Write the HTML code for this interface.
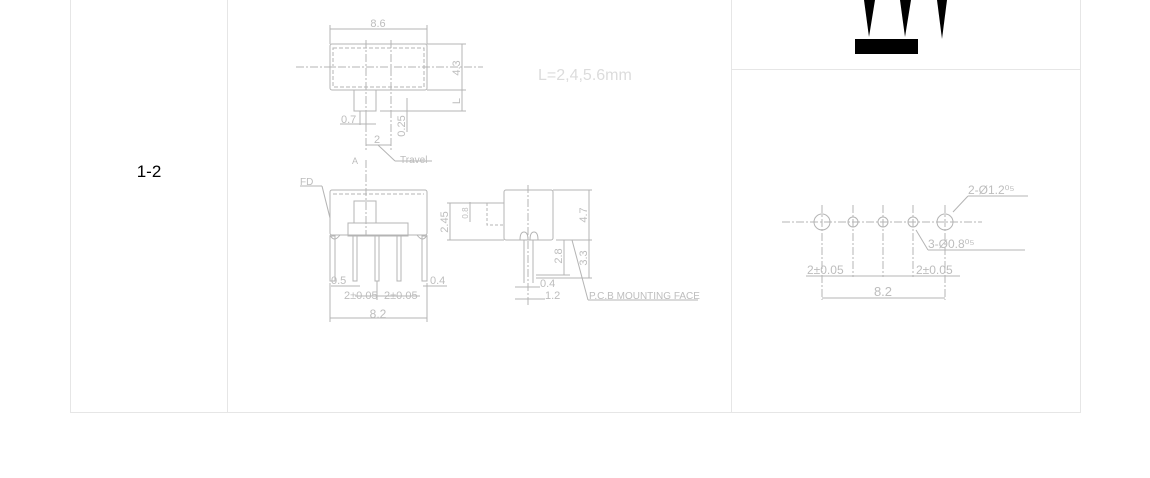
<!DOCTYPE html>
<html><head><style>
body{margin:0;background:#fff;}
svg{display:block;font-family:"Liberation Sans",sans-serif;}
</style></head><body>
<svg width="1150" height="478" viewBox="0 0 1150 478">
<g stroke="#e6e6e6" stroke-width="1" fill="none">
<line x1="70.5" y1="0" x2="70.5" y2="412.5"/>
<line x1="1080.5" y1="0" x2="1080.5" y2="412.5"/>
<line x1="70" y1="412.5" x2="1081" y2="412.5"/>
<line x1="227.5" y1="0" x2="227.5" y2="412"/>
<line x1="731.5" y1="0" x2="731.5" y2="412"/>
<line x1="731" y1="69.5" x2="1080" y2="69.5"/>
</g>
<text x="149" y="177" font-size="17" text-anchor="middle" fill="#000">1-2</text>
<g fill="#000">
<polygon points="864,0 875,0 869,37"/>
<polygon points="900,0 911,0 905,37"/>
<polygon points="937,0 947,0 942,39"/>
<rect x="855" y="39" width="63" height="15"/>
</g>
<g stroke="#b4b4b4" stroke-width="1" fill="none">
<rect x="330" y="44" width="97" height="46" rx="2"/>
<rect x="333" y="48" width="91" height="39" stroke-dasharray="4,2"/>
<line x1="296" y1="67" x2="483" y2="67" stroke-dasharray="8,2,2,2"/>
<line x1="366" y1="40" x2="366" y2="150" stroke-dasharray="8,2,2,2"/>
<line x1="391" y1="40" x2="391" y2="150" stroke-dasharray="8,2,2,2"/>
<line x1="330" y1="29" x2="427" y2="29"/>
<line x1="330" y1="25" x2="330" y2="44"/><line x1="427" y1="25" x2="427" y2="44"/>
<line x1="427" y1="44" x2="466" y2="44"/><line x1="427" y1="90" x2="466" y2="90"/>
<line x1="380" y1="111" x2="466" y2="111"/>
<line x1="462" y1="44" x2="462" y2="111"/>
<rect x="354" y="90" width="22" height="21"/>
<line x1="360" y1="111" x2="360" y2="125"/><line x1="366" y1="111" x2="366" y2="125"/>
<line x1="340" y1="124" x2="376" y2="124"/>
<line x1="407" y1="98" x2="407" y2="132"/>
<line x1="366" y1="145" x2="391" y2="145"/>
<line x1="378" y1="145" x2="395" y2="161"/><line x1="395" y1="161" x2="432" y2="161"/>
<line x1="366" y1="160" x2="366" y2="235" stroke-dasharray="8,2,2,2"/>
<rect x="330" y="190" width="97" height="45" rx="2"/>
<line x1="333" y1="194" x2="424" y2="194" stroke-dasharray="4,2"/>
<rect x="354" y="201" width="22" height="22"/>
<rect x="348" y="223" width="60" height="13"/>
<path d="M330 235 q4 8 10 0 M417 235 q6 8 10 0"/>
<rect x="330" y="236" width="5" height="45"/><rect x="422" y="236" width="5" height="45"/>
<rect x="353" y="236" width="4" height="45"/><rect x="375" y="236" width="4" height="45"/><rect x="397" y="236" width="4" height="45"/>
<line x1="300" y1="186" x2="322" y2="186"/><line x1="322" y1="186" x2="330" y2="218"/>
<line x1="330" y1="283" x2="330" y2="322"/><line x1="427" y1="283" x2="427" y2="322"/>
<line x1="330" y1="318" x2="427" y2="318"/>
<line x1="331" y1="286" x2="360" y2="286"/>
<line x1="355" y1="296" x2="420" y2="296"/>
<line x1="377" y1="281" x2="377" y2="300"/>
<line x1="423" y1="286" x2="447" y2="286"/>
<line x1="528" y1="185" x2="528" y2="305" stroke-dasharray="8,2,2,2"/>
<rect x="504" y="190" width="49" height="50" rx="2"/>
<rect x="487" y="203" width="17" height="22" stroke-dasharray="3,2"/>
<path d="M520 240 q0 -8 4 -8 q4 0 4 8 M530 240 q0 -8 4 -8 q4 0 4 8"/>
<line x1="524" y1="240" x2="524" y2="283"/><line x1="533" y1="240" x2="533" y2="283"/>
<line x1="553" y1="190" x2="592" y2="190"/><line x1="556" y1="240" x2="592" y2="240"/>
<line x1="589" y1="190" x2="589" y2="278"/>
<line x1="564" y1="240" x2="564" y2="275"/>
<line x1="536" y1="275" x2="570" y2="275"/><line x1="536" y1="278" x2="592" y2="278"/>
<line x1="447" y1="203" x2="504" y2="203"/><line x1="447" y1="240" x2="504" y2="240"/>
<line x1="450" y1="203" x2="450" y2="240"/>
<line x1="470" y1="202" x2="470" y2="222"/>
<line x1="515" y1="287" x2="540" y2="287"/><line x1="515" y1="299" x2="545" y2="299"/>
<line x1="572" y1="240" x2="588" y2="300"/><line x1="588" y1="300" x2="698" y2="300"/>
<line x1="782" y1="222" x2="982" y2="222" stroke-dasharray="8,2,2,2"/>
<circle cx="822" cy="222" r="8"/><circle cx="853" cy="222" r="5"/><circle cx="883" cy="222" r="5"/><circle cx="913" cy="222" r="5"/><circle cx="945" cy="222" r="8"/>
<g stroke-dasharray="8,2,2,2"><line x1="822" y1="205" x2="822" y2="300"/><line x1="853" y1="205" x2="853" y2="277"/><line x1="883" y1="205" x2="883" y2="277"/><line x1="913" y1="205" x2="913" y2="277"/><line x1="945" y1="205" x2="945" y2="300"/></g>
<line x1="806" y1="276" x2="960" y2="276"/>
<line x1="822" y1="298" x2="945" y2="298"/>
<line x1="953" y1="212" x2="968" y2="196"/><line x1="968" y1="196" x2="1028" y2="196"/>
<line x1="916" y1="230" x2="928" y2="250"/><line x1="928" y1="250" x2="1025" y2="250"/>
</g>
<g fill="#bdbdbd" font-size="11">
<text x="378" y="27" text-anchor="middle">8.6</text>
<text x="460" y="68" transform="rotate(-90 460 68)" text-anchor="middle">4.3</text>
<text x="460" y="101" transform="rotate(-90 460 101)" text-anchor="middle">L</text>
<text x="341" y="123">0.7</text>
<text x="405" y="126" transform="rotate(-90 405 126)" text-anchor="middle">0.25</text>
<text x="374" y="143">2</text>
<text x="400" y="163" font-size="10">Travel</text>
<text x="352" y="164" font-size="9">A</text>
<text x="300" y="185" font-size="10">FD</text>
<text x="331" y="284">0.5</text>
<text x="344" y="299">2±0.05</text>
<text x="384" y="299">2±0.05</text>
<text x="430" y="284">0.4</text>
<text x="378" y="318" font-size="12" text-anchor="middle">8.2</text>
<text x="448" y="222" transform="rotate(-90 448 222)" text-anchor="middle">2.45</text>
<text x="468" y="213" font-size="8" transform="rotate(-90 468 213)" text-anchor="middle">0.8</text>
<text x="587" y="215" transform="rotate(-90 587 215)" text-anchor="middle">4.7</text>
<text x="562" y="256" transform="rotate(-90 562 256)" text-anchor="middle">2.8</text>
<text x="587" y="258" transform="rotate(-90 587 258)" text-anchor="middle">3.3</text>
<text x="540" y="287">0.4</text>
<text x="545" y="299">1.2</text>
<text x="589" y="299" font-size="10">P.C.B MOUNTING FACE</text>
<text x="968" y="194" font-size="12">2-Ø1.2⁰⁵</text>
<text x="928" y="248" font-size="12">3-Ø0.8⁰⁵</text>
<text x="807" y="274" font-size="12">2±0.05</text>
<text x="916" y="274" font-size="12">2±0.05</text>
<text x="883" y="296" font-size="13" text-anchor="middle">8.2</text>
</g>
<text x="538" y="80" font-size="16" fill="#dcdcdc">L=2,4,5.6mm</text>
</svg>
</body></html>
